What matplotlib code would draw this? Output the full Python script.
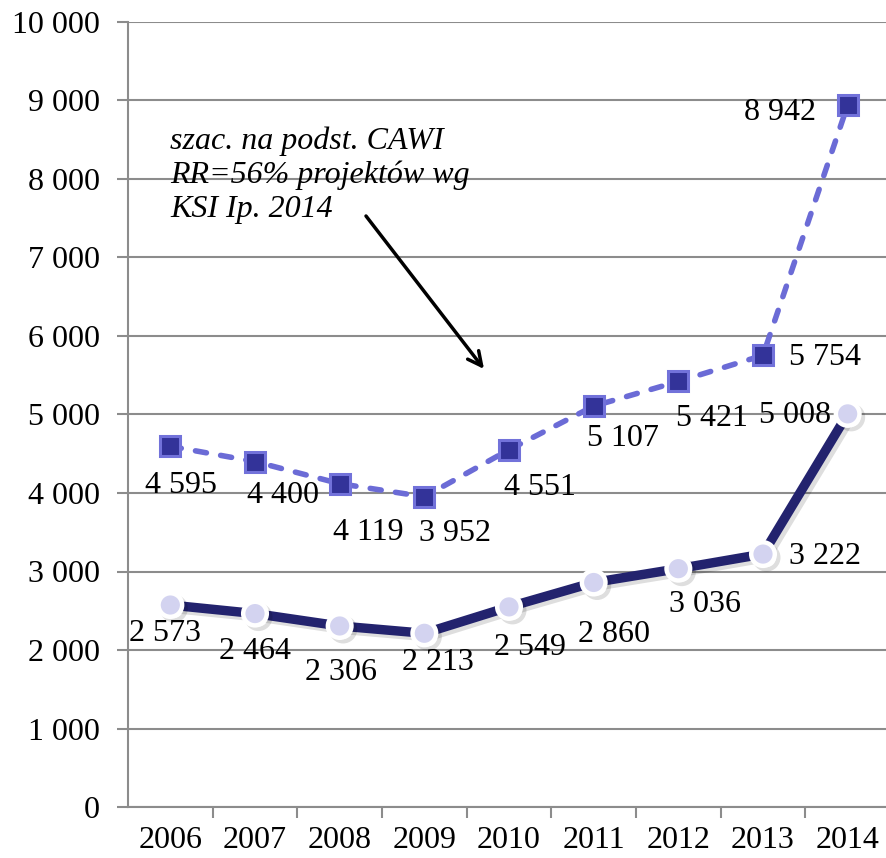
import matplotlib
matplotlib.use("Agg")
import matplotlib.pyplot as plt
import matplotlib.patheffects as pe

years = ["2006", "2007", "2008", "2009", "2010", "2011", "2012", "2013", "2014"]
est_values = [4595, 4400, 4119, 3952, 4551, 5107, 5421, 5754, 8942]
base_values = [2573, 2464, 2306, 2213, 2549, 2860, 3036, 3222, 5008]
y_ticks = [0, 1000, 2000, 3000, 4000, 5000, 6000, 7000, 8000, 9000, 10000]
note_text = "szac. na podst. CAWI\nRR=56% projektów wg\nKSI Ip. 2014"

# label offsets in pixels (style, not data)
est_offsets = [(11, -39), (28, -34), (29, -49), (31, -37), (31, -38), (29, -32), (34, -37), (62, -2), (-68, -7)]
base_offsets = [(-5, -28), (0, -38), (1, -47), (14, -29), (21, -41), (20, -52), (27, -36), (62, -2), (-53, -2)]

def fmt(v):
    return f"{v:,}".replace(",", " ")

plt.rcParams['font.family'] = ['Liberation Serif', 'DejaVu Serif']
FS = 23

fig = plt.figure(figsize=(8.87, 8.58), dpi=100)
ax = fig.add_axes([128/887, 51/858, 762/887, 785/858])

x = list(range(len(years)))

ax.plot(x, est_values, linestyle=(0, (2.0, 2.6)), color="#6b6bd6", linewidth=4.0,
        marker="s", markersize=14, markerfacecolor="#333399",
        markeredgecolor="#7272da", markeredgewidth=2.2, zorder=4,
        solid_capstyle="round", dash_capstyle="round")

shadow = [pe.SimpleLineShadow(offset=(2.5, -2.5), alpha=0.13, shadow_color="black"), pe.Normal()]
ax.plot(x, base_values, linestyle="-", color="#23236e", linewidth=6.8,
        marker="o", markersize=17, markerfacecolor="#d3d3f0",
        markeredgecolor="white", markeredgewidth=3.2, zorder=3,
        path_effects=shadow, solid_joinstyle="round")

for i, v in enumerate(est_values):
    ax.annotate(fmt(v), (x[i], v), xytext=est_offsets[i], textcoords="offset pixels",
                ha="center", va="center", fontsize=FS, color="black", zorder=6)
for i, v in enumerate(base_values):
    ax.annotate(fmt(v), (x[i], v), xytext=base_offsets[i], textcoords="offset pixels",
                ha="center", va="center", fontsize=FS, color="black", zorder=6)

ax.set_xlim(-0.5, len(years) - 0.5)
ax.set_ylim(0, 10000)
ax.set_yticks(y_ticks)
ax.set_yticklabels([fmt(t) for t in y_ticks], fontsize=FS)
ax.set_xticks(x)
ax.set_xticklabels(years, fontsize=FS)
ax.set_xticks([i - 0.5 for i in range(1, len(years))], minor=True)

ax.tick_params(axis="x", which="major", length=0, pad=14)
ax.tick_params(axis="x", which="minor", length=8, width=1.5, color="#8c8c8c", direction="out")
ax.tick_params(axis="y", length=8, width=1.5, color="#8c8c8c", direction="out", pad=12)

ax.grid(axis="y", color="#8c8c8c", linewidth=1.5, zorder=0)
ax.set_axisbelow(True)
for s in ["top", "right"]:
    ax.spines[s].set_visible(False)
for s in ["left", "bottom"]:
    ax.spines[s].set_color("#8c8c8c")
    ax.spines[s].set_linewidth(1.5)

fig.text(170/887, 1 - 126/858, note_text, ha="left", va="top", fontsize=FS,
         style="italic", linespacing=1.22)

ax.annotate("", xy=(484/887, 1 - 369/858), xytext=(366/887, 1 - 216/858),
            xycoords="figure fraction", textcoords="figure fraction",
            arrowprops=dict(arrowstyle="->", color="black", lw=2.5,
                            mutation_scale=25, shrinkA=0, shrinkB=0), zorder=7)

fig.savefig("out.png", dpi=100)
